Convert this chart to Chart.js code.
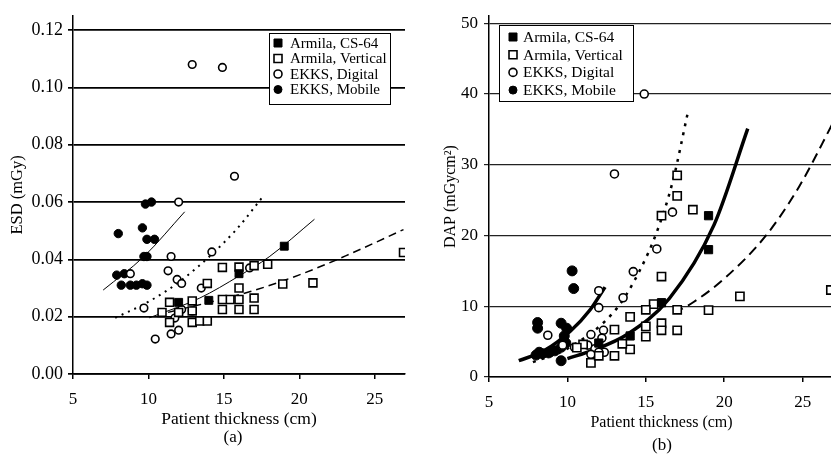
<!DOCTYPE html>
<html>
<head>
<meta charset="utf-8">
<script src="https://cdn.jsdelivr.net/npm/chart.js@4.4.0/dist/chart.umd.min.js"></script>
<style>
  body { margin: 0; width: 831px; height: 456px; overflow: hidden; background: #fff; position: relative; font-family: "Liberation Serif", serif; }
  #wrapA { position: absolute; left: 0; top: 0; width: 415px; height: 456px; }
  #wrapB { position: absolute; left: 415px; top: 0; width: 430px; height: 456px; }
  .tag { position: absolute; font-size: 17px; color: #000; transform: translate(-50%, -50%); white-space: nowrap; }
</style>
</head>
<body>
<div id="wrapA"><canvas id="esdChart" width="415" height="456"></canvas></div>
<div id="wrapB"><canvas id="dapChart" width="430" height="456"></canvas></div>
<div class="tag" style="left:233px; top:437px;">(a)</div>
<div class="tag" style="left:662px; top:445px;">(b)</div>
<script>
// ---- data ----
const seriesNames = ['Armila, CS-64', 'Armila, Vertical', 'EKKS, Digital', 'EKKS, Mobile'];

// (a) ESD (mGy) vs patient thickness (cm)
const esdCs64X = [12, 14, 16, 19];
const esdCs64Y = [0.025, 0.0257, 0.035, 0.0446];
const esdVerticalX = [26.9, 20.9, 18.9, 17.9, 17, 16, 14.9, 16, 13.9, 17, 16, 15.4, 14.9, 12.9, 17, 16, 14.9, 12.9, 10.9, 12, 11.4, 11.4, 12.9, 13.4, 13.9];
const esdVerticalY = [0.0424, 0.0318, 0.0314, 0.0383, 0.0378, 0.0373, 0.0372, 0.030, 0.0316, 0.0265, 0.026, 0.026, 0.026, 0.0255, 0.0225, 0.0225, 0.0225, 0.022, 0.0215, 0.0215, 0.025, 0.018, 0.018, 0.0185, 0.0185];
const esdDigitalX = [12.9, 14.9, 15.7, 12.0, 11.5, 14.2, 8.8, 11.3, 11.9, 12.2, 13.5, 16.7, 9.7, 11.75, 12.2, 12.9, 12.0, 11.5, 10.45];
const esdDigitalY = [0.108, 0.107, 0.069, 0.060, 0.041, 0.0426, 0.035, 0.036, 0.033, 0.0316, 0.030, 0.037, 0.023, 0.0195, 0.0225, 0.022, 0.0153, 0.014, 0.0122];
const esdMobileX = [8.0, 9.6, 9.9, 10.4, 9.7, 9.9, 7.9, 8.4, 8.2, 8.8, 9.2, 9.6, 9.9, 9.8, 10.2];
const esdMobileY = [0.049, 0.051, 0.047, 0.047, 0.041, 0.041, 0.0345, 0.035, 0.031, 0.031, 0.031, 0.0315, 0.031, 0.0593, 0.060];
// trend lines (a)
const esdCs64FitX = [10.05, 13.4, 16, 18, 21];
const esdCs64FitY = [0.0196, 0.0265, 0.0342, 0.0409, 0.054];
const esdVerticalFitX = [11.3, 16.7, 20, 23.1, 26.9];
const esdVerticalFitY = [0.0215, 0.0287, 0.0346, 0.0413, 0.0504];
const esdDigitalFitX = [7.8, 10.1, 12.4, 15.7, 17.6];
const esdDigitalFitY = [0.0196, 0.0255, 0.0336, 0.0497, 0.062];
const esdMobileFitX = [7.0, 9.7, 12.4];
const esdMobileFitY = [0.0293, 0.041, 0.0566];

// (b) DAP (mGycm2) vs patient thickness (cm)
const dapCs64X = [12, 14, 16, 19, 19];
const dapCs64Y = [4.8, 5.8, 10.5, 22.8, 18.0];
const dapVerticalX = [26.8, 21, 19, 18, 17, 17, 16, 16, 17, 15.5, 15, 14, 16, 16, 17, 15, 15, 13, 13, 14, 13.5, 11.5, 11, 10.6, 12];
const dapVerticalY = [12.3, 11.4, 9.45, 23.65, 28.5, 25.6, 22.8, 14.2, 9.5, 10.3, 9.5, 8.5, 7.6, 6.6, 6.6, 7.15, 5.7, 6.7, 3.0, 3.9, 4.7, 2.0, 4.6, 4.15, 3.0];
const dapDigitalX = [14.9, 13.0, 16.7, 15.7, 14.2, 13.55, 12.0, 12.0, 12.3, 8.75, 11.5, 12.35, 9.7, 11.75, 11.3, 10.45, 11.5, 12.0, 12.2];
const dapDigitalY = [40, 28.7, 23.3, 18.1, 14.9, 11.2, 12.2, 9.8, 6.6, 5.9, 6.0, 3.5, 4.5, 4.0, 4.5, 4.2, 3.2, 3.5, 5.5];
const dapMobileX = [10.3, 10.4, 8.1, 8.1, 9.6, 9.95, 9.6, 8.0, 8.4, 8.2, 8.8, 9.2, 9.6, 9.9, 9.8];
const dapMobileY = [15.0, 12.5, 7.7, 6.9, 7.6, 6.9, 2.3, 3.1, 3.3, 3.5, 3.4, 3.7, 4.2, 4.8, 5.8];
// trend lines (b)
const dapCs64FitX = [10, 11.65, 13.8, 16.5, 19.35, 21.5];
const dapCs64FitY = [2.6, 3.8, 6.0, 11.1, 21.5, 35.1];
const dapVerticalFitX = [16.8, 18.05, 20, 22.7, 24.8, 27];
const dapVerticalFitY = [9.0, 10.6, 13.9, 20.1, 27.0, 36.2];
const dapDigitalFitX = [7.8, 10, 13.15, 14.6, 15.7, 16.7, 17.7];
const dapDigitalFitY = [2.1, 4.0, 9.7, 15.0, 20.5, 27.5, 37.6];
const dapMobileFitX = [6.9, 8.5, 10.2, 11.45, 12.4];
const dapMobileFitY = [2.3, 3.7, 6.5, 9.5, 12.7];

const FONT = '"Liberation Serif", "Times New Roman", serif';

function pts(xs, ys) {
    return xs.map((x, i) => ({ x: x, y: ys[i] }));
}

function markerSet(xs, ys, label, style, filled, radius) {
    return {
        label: label,
        data: pts(xs, ys),
        showLine: false,
        pointStyle: style,
        pointRadius: radius,
        pointBackgroundColor: filled ? '#000' : '#fff',
        pointBorderColor: '#000',
        pointBorderWidth: filled ? 1 : 1.6
    };
}

function fitLine(xs, ys, width, dash) {
    return {
        label: 'fit',
        data: pts(xs, ys),
        showLine: true,
        pointRadius: 0,
        borderColor: '#000',
        borderWidth: width,
        borderDash: dash,
        cubicInterpolationMode: 'monotone',
        fill: false
    };
}

// legend drawn as a framed box inside the plot
const boxLegend = {
    id: 'boxLegend',
    afterDraw(chart, args, o) {
        const ctx = chart.ctx;
        ctx.save();
        ctx.fillStyle = '#fff';
        ctx.fillRect(o.x, o.y, o.w, o.h);
        ctx.strokeStyle = '#000';
        ctx.lineWidth = 1;
        ctx.strokeRect(o.x + 0.5, o.y + 0.5, o.w, o.h);
        ctx.font = o.fontSize + 'px ' + FONT;
        ctx.textBaseline = 'middle';
        chart.data.datasets.slice(0, 4).forEach((ds, i) => {
            const cy = o.first + i * o.step;
            ctx.beginPath();
            ctx.fillStyle = ds.pointBackgroundColor;
            ctx.strokeStyle = '#000';
            ctx.lineWidth = ds.pointBorderWidth;
            if (ds.pointStyle === 'rect') {
                ctx.rect(o.mx - o.half, cy - o.half, 2 * o.half, 2 * o.half);
            } else {
                ctx.arc(o.mx, cy, o.half, 0, Math.PI * 2);
            }
            ctx.fill();
            ctx.stroke();
            ctx.fillStyle = '#000';
            ctx.fillText(ds.label, o.tx, cy + 1);
        });
        ctx.restore();
    }
};

function makeChart(id, datasets, s) {
    return new Chart(document.getElementById(id), {
        type: 'scatter',
        data: { datasets: datasets },
        plugins: [boxLegend],
        options: {
            responsive: false,
            animation: false,
            events: [],
            layout: { padding: { left: 0, right: s.padRight, top: 8, bottom: 0 } },
            plugins: {
                legend: { display: false },
                tooltip: { enabled: false },
                boxLegend: s.legend
            },
            scales: {
                x: {
                    type: 'linear',
                    min: 5,
                    max: 27,
                    ticks: { stepSize: 5, includeBounds: false, maxRotation: 0, color: '#000', padding: s.xTickPad, font: { family: FONT, size: s.xTickFont } },
                    grid: { drawOnChartArea: false, drawTicks: true, tickLength: 5, color: '#000', lineWidth: 1.5 },
                    border: { color: '#000', width: 1.5 },
                    title: { display: true, text: 'Patient thickness (cm)', color: '#000', font: { family: FONT, size: s.xTitleFont }, padding: { top: 0, bottom: s.xTitlePad } },
                    afterFit(scale) { scale.height = s.xHeight; }
                },
                y: {
                    min: 0,
                    max: s.yMax,
                    ticks: { stepSize: s.yStep, includeBounds: false, color: '#000', padding: s.yTickPad, font: { family: FONT, size: s.yTickFont }, callback: s.yFormat },
                    grid: { color: s.gridColor, lineWidth: s.gridWidth, tickLength: 5 },
                    border: { color: '#000', width: 1.5 },
                    title: { display: true, text: s.yTitle, color: '#000', font: { family: FONT, size: s.yTitleFont }, padding: { top: s.yTitlePad, bottom: 0 } },
                    afterFit(scale) { scale.width = s.yWidth; }
                }
            }
        }
    });
}

makeChart('esdChart', [
    markerSet(esdCs64X, esdCs64Y, seriesNames[0], 'rect', true, 5.6),
    markerSet(esdVerticalX, esdVerticalY, seriesNames[1], 'rect', false, 5.6),
    markerSet(esdDigitalX, esdDigitalY, seriesNames[2], 'circle', false, 3.8),
    markerSet(esdMobileX, esdMobileY, seriesNames[3], 'circle', true, 4.2),
    fitLine(esdCs64FitX, esdCs64FitY, 1, []),
    fitLine(esdVerticalFitX, esdVerticalFitY, 1.5, [8, 5]),
    fitLine(esdDigitalFitX, esdDigitalFitY, 2, [2, 5]),
    fitLine(esdMobileFitX, esdMobileFitY, 1, [])
], {
    padRight: 10, xHeight: 82, xTickPad: 10, xTickFont: 17, xTitleFont: 17.5, xTitlePad: 26,
    yMax: 0.125, yStep: 0.02, yTickPad: 5, yTickFont: 18,
    yFormat: v => v.toFixed(2), gridColor: '#000', gridWidth: 1.7,
    yTitle: 'ESD (mGy)', yTitleFont: 16.5, yTitlePad: 8, yWidth: 73,
    legend: { x: 269, y: 33, w: 121, h: 71, mx: 278, tx: 290, half: 4, first: 43, step: 15.5, fontSize: 15 }
});

makeChart('dapChart', [
    markerSet(dapCs64X, dapCs64Y, seriesNames[0], 'rect', true, 5.8),
    markerSet(dapVerticalX, dapVerticalY, seriesNames[1], 'rect', false, 5.8),
    markerSet(dapDigitalX, dapDigitalY, seriesNames[2], 'circle', false, 4),
    markerSet(dapMobileX, dapMobileY, seriesNames[3], 'circle', true, 5),
    fitLine(dapCs64FitX, dapCs64FitY, 3.5, []),
    fitLine(dapVerticalFitX, dapVerticalFitY, 2, [10, 6]),
    fitLine(dapDigitalFitX, dapDigitalFitY, 2.5, [3, 6]),
    fitLine(dapMobileFitX, dapMobileFitY, 3.5, [])
], {
    padRight: 11, xHeight: 79, xTickPad: 10, xTickFont: 17, xTitleFont: 16, xTitlePad: 24,
    yMax: 51, yStep: 10, yTickPad: 6, yTickFont: 17,
    yFormat: v => String(v), gridColor: '#222', gridWidth: 1.2,
    yTitle: 'DAP (mGycm²)', yTitleFont: 16, yTitlePad: 26, yWidth: 74,
    legend: { x: 84, y: 25, w: 134, h: 76, mx: 98, tx: 108, half: 4, first: 37, step: 17.7, fontSize: 15.5 }
});
</script>
</body>
</html>
